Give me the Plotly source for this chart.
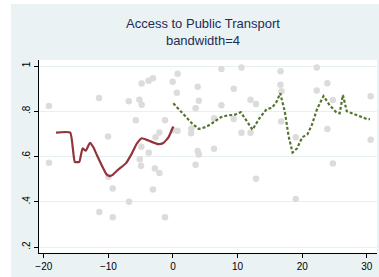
import plotly.graph_objects as go

# Scatter data (running variable vs access share)
scatter_x = [-19.2, -19.2, -11.45, -11.4, -10.05, -10.0, -9.33, -9.33, -6.85, -6.8,
             -5.75, -5.2, -4.85, -4.85, -3.77, -3.1, -4.9, -3.75, -5.15, -4.95,
             -2.8, -2.1, -3.1, -1.24, -1.24, -2.7, -2.1, -0.05, 0.72, 0.6,
             0.05, 0.7,
             2.8, 2.85, 3.82, 4.0, 3.5, 3.82, 4.0, 3.5, 6.35, 6.35, 7.5, 7.5,
             9.4, 9.4, 10.6, 10.6, 12.0, 12.85, 12.0, 12.85, 16.65, 16.65, 16.8,
             16.75, 19.0, 19.0, 22.25, 23.9, 22.25, 24.75, 23.9, 24.75, 30.6, 30.6]
scatter_y = [0.823, 0.573, 0.859, 0.355, 0.689, 0.511, 0.459, 0.332, 0.844, 0.401,
             0.761, 0.851, 0.829, 0.923, 0.935, 0.946, 0.644, 0.617, 0.588, 0.560,
             0.547, 0.528, 0.455, 0.332, 0.761, 0.685, 0.706, 0.931, 0.966, 0.882,
             0.716, 0.714,
             0.703, 0.724, 0.908, 0.847, 0.814, 0.625, 0.609, 0.564, 0.769, 0.635,
             0.987, 0.827, 0.900, 0.766, 0.993, 0.705, 0.851, 0.832, 0.705, 0.502,
             0.977, 0.917, 0.888, 0.755, 0.685, 0.413, 0.993, 0.924, 0.892, 0.850,
             0.722, 0.570, 0.866, 0.674]

# Local fit left of cutoff
left_x = [-18.1, -15.9, -15.2, -14.5, -14.0, -13.5, -12.85, -12.3, -11.8, -11.0,
          -10.3, -9.8, -9.4, -8.5, -7.3, -6.4, -5.6, -4.85, -3.8, -2.3, -1.5, -0.7, 0.05]
left_y = [0.706, 0.706, 0.577, 0.577, 0.636, 0.626, 0.661, 0.640, 0.608, 0.560,
          0.522, 0.514, 0.518, 0.542, 0.570, 0.612, 0.657, 0.681, 0.671, 0.655,
          0.660, 0.685, 0.733]

# Local fit right of cutoff
right_x = [0.05, 1.0, 1.9, 3.0, 4.0, 5.0, 5.8, 6.6, 7.4, 8.5, 9.6, 10.5, 11.3, 12.3,
           13.4, 14.5, 15.3, 16.0, 16.6, 17.3, 17.9, 18.5, 19.2, 20.0, 20.8, 21.5,
           22.3, 23.3, 24.3, 25.3, 25.8, 26.3, 26.9, 27.9, 28.9, 30.0, 30.5]
right_y = [0.835, 0.805, 0.776, 0.745, 0.722, 0.730, 0.742, 0.757, 0.774, 0.782,
           0.785, 0.796, 0.760, 0.719, 0.770, 0.810, 0.815, 0.840, 0.880, 0.800,
           0.690, 0.618, 0.636, 0.685, 0.698, 0.740, 0.810, 0.867, 0.825, 0.795,
           0.791, 0.872, 0.800, 0.788, 0.777, 0.766, 0.765]

xtick_vals = [-20, -10, 0, 10, 20, 30]
ytick_vals = [0.2, 0.4, 0.6, 0.8, 1.0]
ytick_text = [".2", ".4", ".6", ".8", "1"]
title_lines = ["Access to Public Transport", "bandwidth=4"]

FONT = "Liberation Sans, Arial, sans-serif"
BG = "#EAF2F3"

fig = go.Figure()
fig.add_trace(go.Scatter(x=scatter_x, y=scatter_y, mode="markers",
                         marker=dict(color="#DCDCDC", size=6.5, line=dict(width=0)),
                         showlegend=False, hoverinfo="skip"))
fig.add_trace(go.Scatter(x=left_x, y=left_y, mode="lines",
                         line=dict(color="#90353B", width=2.2, shape="spline", smoothing=0.4),
                         showlegend=False))
fig.add_trace(go.Scatter(x=right_x, y=right_y, mode="lines",
                         line=dict(color="#55752F", width=2.2, dash="3px,2px"),
                         showlegend=False))

L, R, T, B = 39, 2, 60, 24
W, H = 379, 277
pw, ph = W - L - R, H - T - B

fig.add_shape(type="rect", xref="paper", yref="paper", layer="below",
              x0=(11 - L) / pw, x1=(W - L + 2) / pw,
              y0=-(B + 2) / ph, y1=(H - B - 4) / ph,
              fillcolor=BG, line=dict(width=0))
fig.add_shape(type="rect", xref="paper", yref="paper", layer="below",
              x0=0, x1=1, y0=0, y1=1, fillcolor="white", line=dict(width=0))

fig.add_annotation(x=(203 - L) / pw, y=(H - B - 32) / ph, xref="paper", yref="paper",
                   text="<br>".join(title_lines), showarrow=False,
                   xanchor="center", yanchor="middle",
                   font=dict(family=FONT, size=13, color="#1E2D55"))

fig.update_layout(
    width=W, height=H,
    margin=dict(l=L, r=R, t=T, b=B),
    paper_bgcolor="white", plot_bgcolor="rgba(0,0,0,0)",
    font=dict(family=FONT, size=10, color="black"),
)
fig.update_xaxes(range=[-20.74, 31.58], tickvals=xtick_vals, showgrid=False,
                 zeroline=False, showline=True, linecolor="black", linewidth=1,
                 ticks="outside", ticklen=4, tickcolor="black",
                 tickfont=dict(family=FONT, size=10, color="black"))
fig.update_yaxes(range=[0.1744, 1.0265], tickvals=ytick_vals, ticktext=ytick_text,
                 showgrid=True, gridcolor="#E6EFF1", gridwidth=1.2,
                 zeroline=False, showline=True, linecolor="black", linewidth=1,
                 ticks="outside", ticklen=4, tickcolor="black", tickangle=-90,
                 tickfont=dict(family=FONT, size=10, color="black"))

fig.write_html("out.html", config={"displayModeBar": False},
               post_script="document.body.style.margin='0';document.body.style.padding='0';"
                           "document.body.style.overflow='hidden';")
